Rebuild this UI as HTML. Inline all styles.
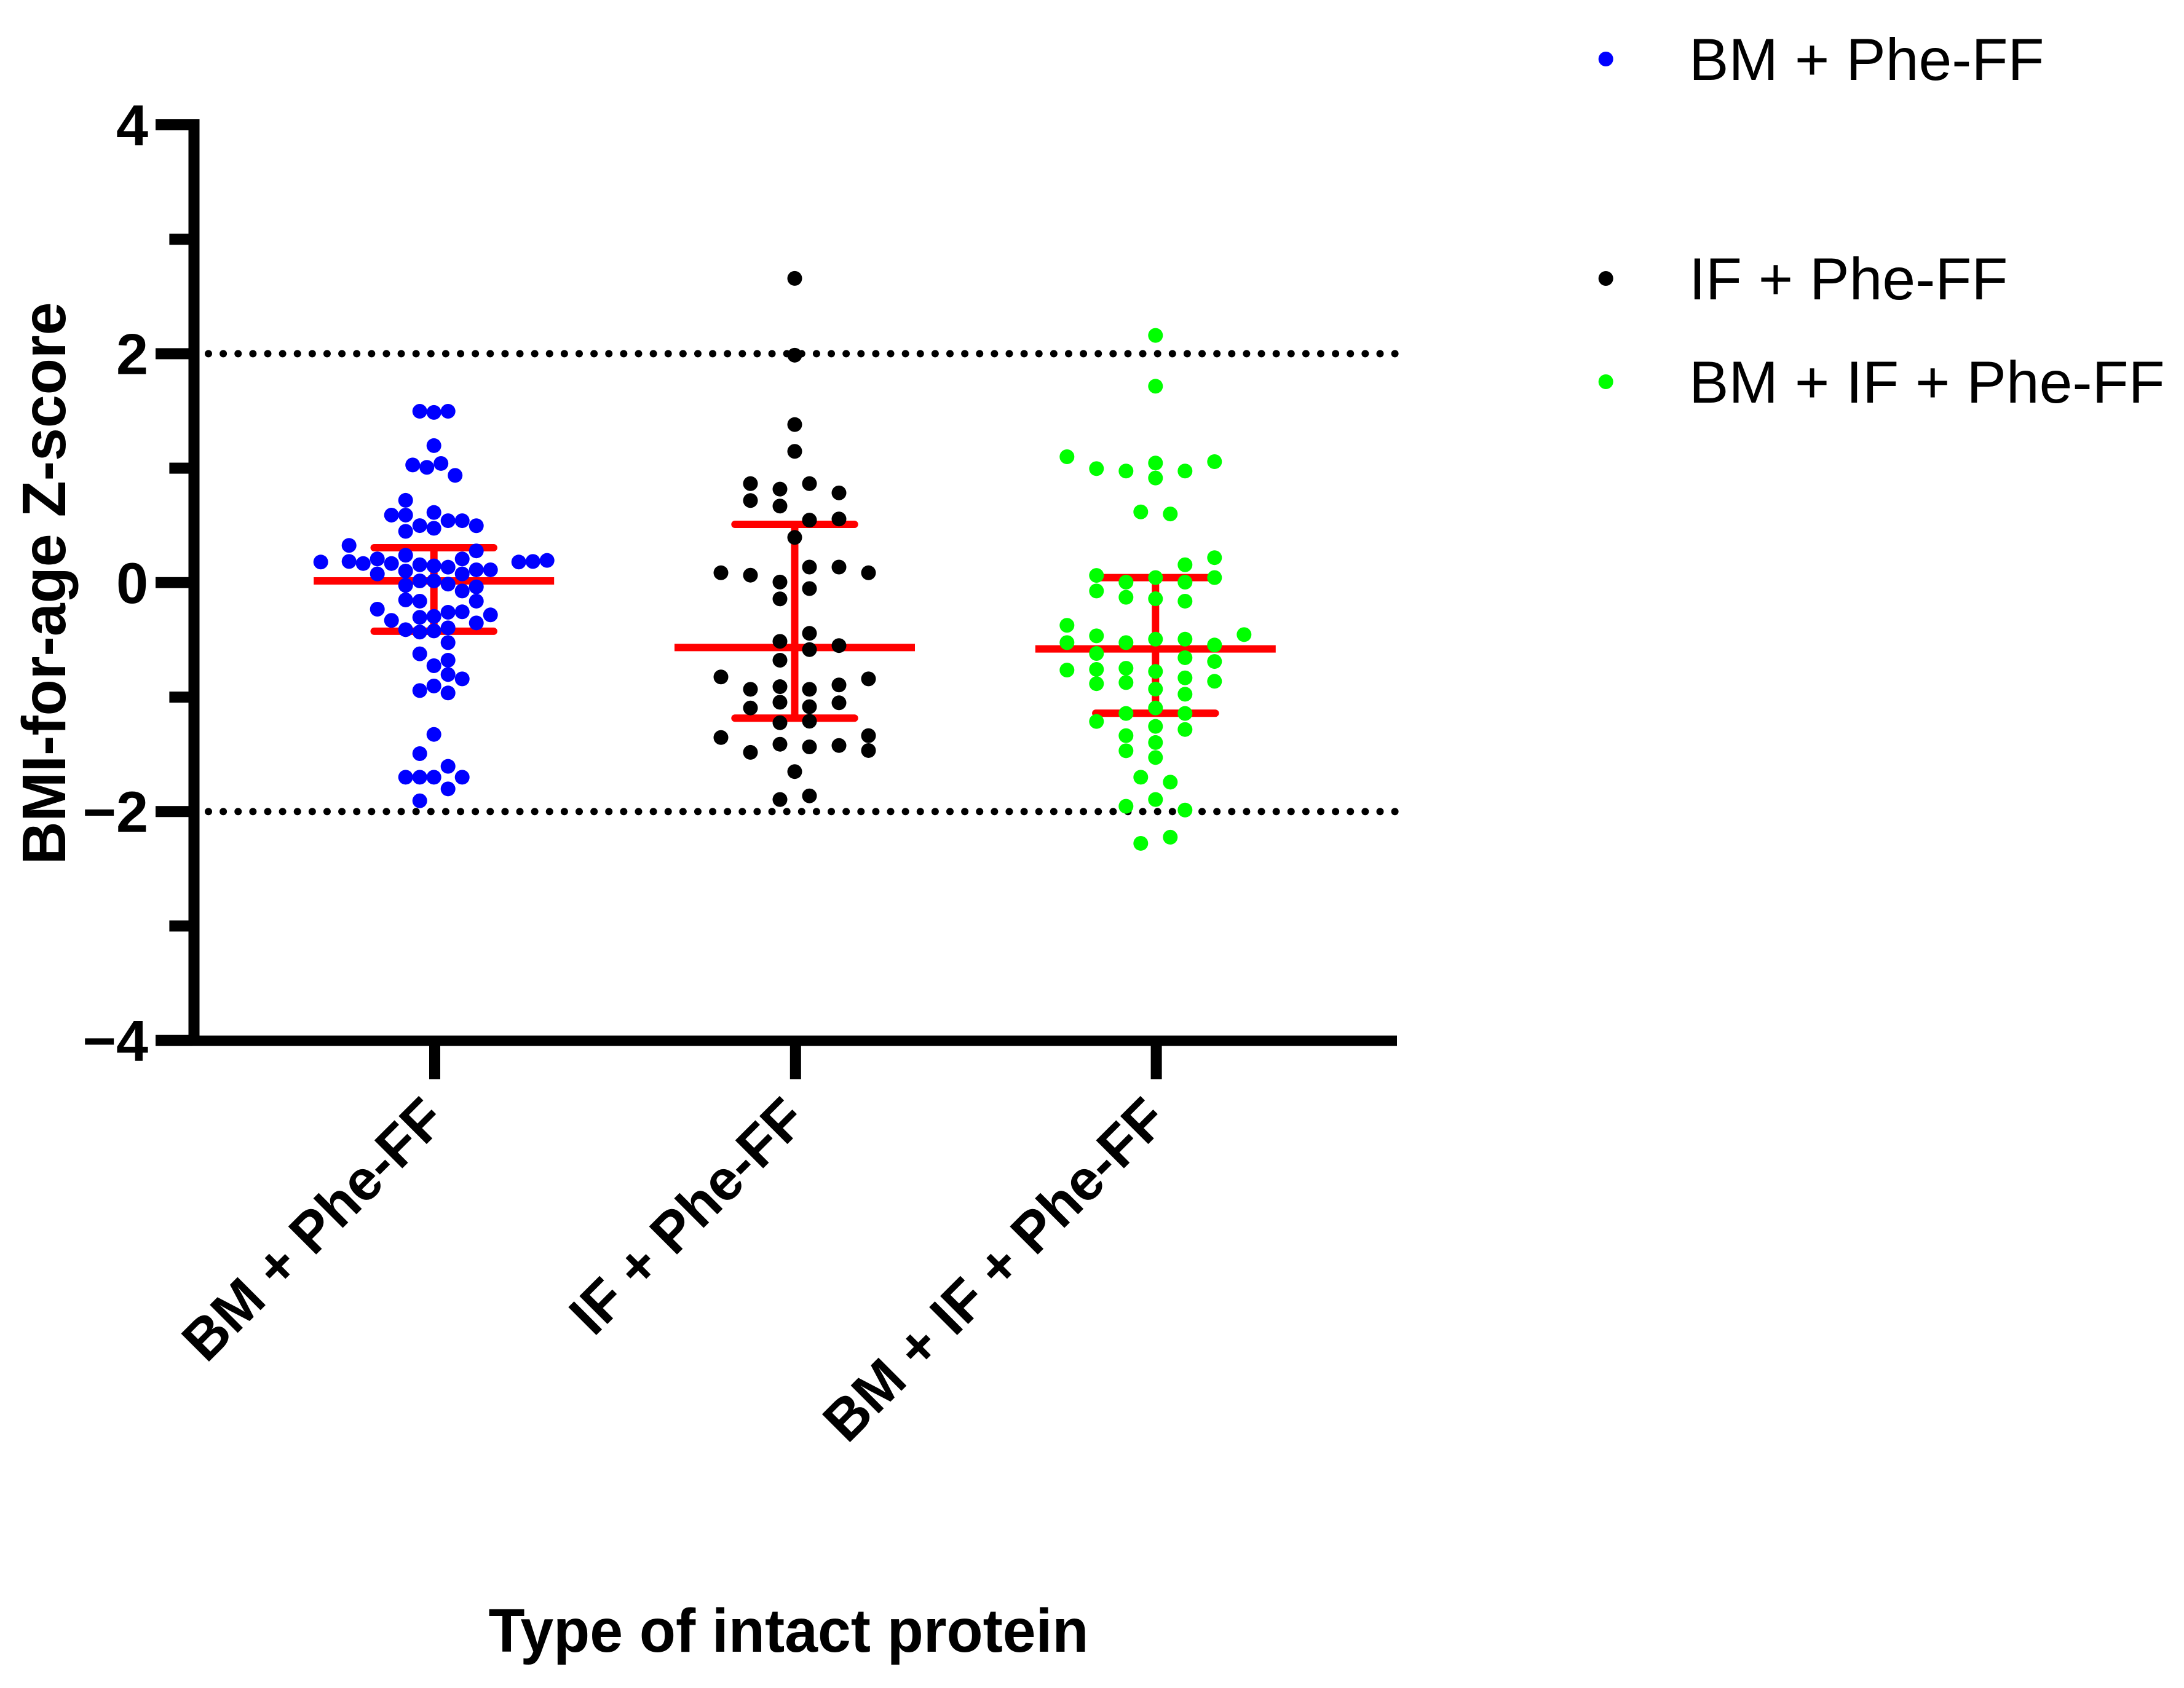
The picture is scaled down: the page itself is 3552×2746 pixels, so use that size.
<!DOCTYPE html>
<html lang="en">
<head>
<meta charset="utf-8">
<title>BMI-for-age Z-score by type of intact protein</title>
<style>
html,body{margin:0;padding:0;background:#fff;}
svg{display:block;}
text{font-family:"Liberation Sans",Arial,sans-serif;fill:#000;}
.bold{font-weight:700;}
</style>
</head>
<body>
<svg id="chart" xmlns="http://www.w3.org/2000/svg" width="3552" height="2746" viewBox="0 0 3552 2746">
  <rect x="0" y="0" width="3552" height="2746" fill="#ffffff"/>
  <g id="refs"></g>
  <g id="errors"></g>
  <g id="points"></g>
  <g id="axes"></g>
  <text class="bold" font-size="100" text-anchor="middle" textLength="915" lengthAdjust="spacingAndGlyphs" transform="translate(106 949) rotate(-90)">BMI-for-age Z-score</text>
  <text class="bold" font-size="100" text-anchor="middle" textLength="976" lengthAdjust="spacingAndGlyphs" x="1282.5" y="2687">Type of intact protein</text>
  <g id="legend"></g>
</svg>
<script>
const categories = ["BM + Phe-FF", "IF + Phe-FF", "BM + IF + Phe-FF"];
const seriesColors = ["#0000ff", "#000000", "#00ff00"];
const yMajorTicks = [4, 2, 0, -2, -4];
const yMinorTicks = [3, 1, -1, -3];
const yTickLabels = ["4", "2", "0", "\u22122", "\u22124"];
const referenceLines = [2, -2];
const meanValues = [0.015, -0.567, -0.579];
const upperValues = [0.305, 0.509, 0.044];
const lowerValues = [-0.425, -1.184, -1.141];

const blueValues = [1.497,1.487,1.497,1.197,1.028,1.007,1.041,0.937,0.719,0.590,0.590,0.613,0.541,0.541,0.497,0.498,0.475,0.448,0.325,0.277,0.180,0.185,0.167,0.207,0.167,0.239,0.156,0.146,0.135,0.207,0.112,0.112,0.180,0.185,0.194,0.076,0.101,0.015,0.015,-0.013,0.076,-0.024,-0.073,-0.037,-0.151,-0.162,-0.162,-0.232,-0.259,-0.255,-0.282,-0.303,-0.295,-0.330,-0.352,-0.411,-0.432,-0.422,-0.395,-0.524,-0.622,-0.678,-0.726,-0.803,-0.841,-0.903,-0.943,-0.964,-1.326,-1.494,-1.605,-1.700,-1.700,-1.700,-1.700,-1.802,-1.906];
const blueSlots = [-2,0,2,0,-3,-1,1,3,-4,-6,-4,0,2,4,6,-2,0,-4,-12,6,-16,-12,-10,-8,-6,-4,-2,0,2,4,6,8,12,14,16,-8,-4,-2,0,2,4,-4,4,6,-4,-2,6,-8,2,4,8,-2,0,-6,6,-4,-2,0,2,2,-2,2,0,2,4,0,-2,2,0,-2,2,-4,-2,0,4,2,-2];

const blackValues = [2.658,1.987,1.381,1.147,0.865,0.817,0.865,0.784,0.717,0.669,0.546,0.556,0.395,0.086,0.065,0.005,0.136,0.136,0.086,-0.052,-0.142,-0.443,-0.513,-0.550,-0.585,-0.678,-0.824,-0.841,-0.894,-0.909,-0.932,-0.932,-1.045,-1.050,-1.084,-1.095,-1.211,-1.224,-1.337,-1.353,-1.412,-1.435,-1.423,-1.467,-1.483,-1.651,-1.863,-1.895];
const blackSlots = [0,0,0,0,-3,-1,1,3,-3,-1,1,3,0,-5,-3,-1,1,3,5,1,-1,1,-1,3,1,-1,-5,5,3,-1,-3,1,-1,3,1,-3,1,-1,5,-5,-1,1,3,5,-3,0,1,-1];

const greenValues = [2.160,1.716,1.100,0.996,0.975,1.045,0.914,0.975,1.057,0.618,0.600,0.218,0.156,0.063,0.044,0.044,0.004,0.004,-0.073,-0.128,-0.141,-0.162,-0.373,-0.454,-0.465,-0.494,-0.494,-0.524,-0.524,-0.545,-0.619,-0.656,-0.689,-0.764,-0.748,-0.758,-0.776,-0.832,-0.862,-0.873,-0.883,-0.930,-0.975,-1.095,-1.143,-1.143,-1.213,-1.256,-1.283,-1.337,-1.397,-1.469,-1.528,-1.700,-1.743,-1.895,-1.954,-1.987,-2.224,-2.278];
const greenSlots = [0,0,-6,-4,-2,0,0,2,4,-1,1,4,2,-4,0,4,-2,2,-4,-2,0,2,-6,6,-4,0,2,-6,-2,4,-4,2,4,-6,-2,-4,0,2,4,-2,-4,0,2,0,-2,2,-4,0,2,-2,0,-2,0,-1,1,0,-2,2,1,-1];

const SVGNS = "http://www.w3.org/2000/svg";
const slotWidths = [11.5, 24, 24];
const allValues = [blueValues, blackValues, greenValues];
const allSlots = [blueSlots, blackSlots, greenSlots];

function yScale(v) { return 947.8 - 186.2 * v; }
function xScale(i) { return 705.7 + 586.8 * i; }

function make(tag, attrs, parent) {
  const el = document.createElementNS(SVGNS, tag);
  for (const k in attrs) el.setAttribute(k, attrs[k]);
  parent.appendChild(el);
  return el;
}

const refs = document.getElementById("refs");
const errors = document.getElementById("errors");
const points = document.getElementById("points");
const axes = document.getElementById("axes");
const legend = document.getElementById("legend");

referenceLines.forEach(function (v) {
  const el = make("line", {x1: 339, x2: 2272, y1: yScale(v), y2: yScale(v), stroke: "#000", "stroke-width": 12, "stroke-linecap": "round", "stroke-dasharray": "0 24.12"}, refs);
  
  
});

categories.forEach(function (c, i) {
  const cx = xScale(i);
  const stem = make("line", {x1: cx, x2: cx, y1: yScale(upperValues[i]), y2: yScale(lowerValues[i]), stroke: "#ff0000", "stroke-width": 12}, errors);
  
  
  const upper = make("line", {x1: cx - 97.2, x2: cx + 97.2, y1: yScale(upperValues[i]), y2: yScale(upperValues[i]), stroke: "#ff0000", "stroke-width": 12, "stroke-linecap": "round"}, errors);
  
  
  const lower = make("line", {x1: cx - 97.2, x2: cx + 97.2, y1: yScale(lowerValues[i]), y2: yScale(lowerValues[i]), stroke: "#ff0000", "stroke-width": 12, "stroke-linecap": "round"}, errors);
  
  
  const mean = make("line", {x1: cx - 195.5, x2: cx + 195.5, y1: yScale(meanValues[i]), y2: yScale(meanValues[i]), stroke: "#ff0000", "stroke-width": 12}, errors);
  
  

  allValues[i].forEach(function (v, j) {
    const dot = make("circle", {cx: cx + allSlots[i][j] * slotWidths[i], cy: yScale(v), r: 12, fill: seriesColors[i]}, points);
    
    
  });
});

const yAxisLine = make("rect", {x: 306.5, y: yScale(4) - 9, width: 18, height: yScale(-4) - yScale(4) + 17, fill: "#000"}, axes);


const xAxisLine = make("rect", {x: 253, y: yScale(-4) - 8, width: 2019, height: 17, fill: "#000"}, axes);



yMajorTicks.forEach(function (v, i) {
  const tick = make("rect", {x: 253, y: yScale(v) - 9, width: 60, height: 18, fill: "#000"}, axes);
  
  
  const label = make("text", {x: 241, y: yScale(v) + 33, "text-anchor": "end", "font-size": 93.6, "class": "bold"}, axes);
  label.textContent = yTickLabels[i];
  
  
});
yMinorTicks.forEach(function (v) {
  const tick = make("rect", {x: 275.4, y: yScale(v) - 9, width: 40, height: 18, fill: "#000"}, axes);
  
  
});
categories.forEach(function (c, i) {
  const tx = xScale(i) + 1.3;
  const tick = make("rect", {x: tx - 9, y: 1693, width: 18, height: 62.5, fill: "#000"}, axes);
  
  
  const label = make("text", {"text-anchor": "end", "font-size": 93.6, "class": "bold", transform: "translate(" + (tx + 22) + " 1826) rotate(-45)"}, axes);
  label.textContent = c;
  label.setAttribute('lengthAdjust', 'spacingAndGlyphs');
  label.setAttribute('textLength', label.getComputedTextLength() * 0.977);
  
  
});

const legendRows = [96, 453, 621];
categories.forEach(function (c, i) {
  const dot = make("circle", {cx: 2611.7, cy: legendRows[i], r: 12, fill: seriesColors[i]}, legend);
  
  
  const label = make("text", {x: 2747, y: legendRows[i] + 34, "font-size": 96.7}, legend);
  label.textContent = c;
  
  
});
</script>
</body>
</html>
